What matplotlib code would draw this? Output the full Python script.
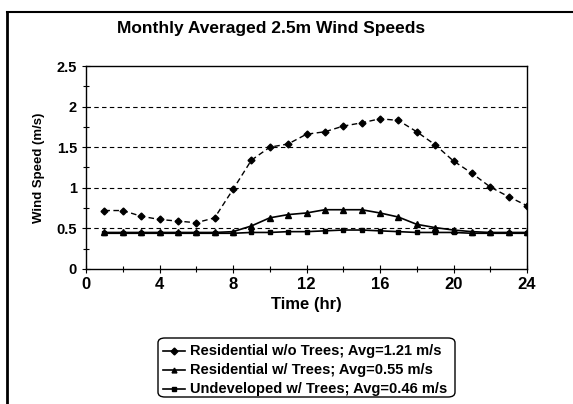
import numpy as np
import matplotlib.pyplot as plt
from matplotlib.ticker import MultipleLocator
from matplotlib.patches import FancyBboxPatch
from matplotlib.lines import Line2D

plt.rcParams['font.family'] = ['Liberation Sans', 'DejaVu Sans']

# hourly averaged wind speeds (m/s)
hours = list(range(1, 25))
res_no_trees = [0.72, 0.72, 0.65, 0.61, 0.59, 0.57, 0.63, 0.98, 1.34, 1.50, 1.54, 1.66,
                1.69, 1.76, 1.80, 1.85, 1.83, 1.69, 1.53, 1.33, 1.18, 1.01, 0.89, 0.78]
res_trees = [0.45, 0.45, 0.45, 0.45, 0.45, 0.45, 0.45, 0.46, 0.53, 0.63, 0.67, 0.69,
             0.73, 0.73, 0.73, 0.69, 0.64, 0.55, 0.51, 0.48, 0.46, 0.45, 0.45, 0.45]
undeveloped = [0.44, 0.44, 0.44, 0.44, 0.44, 0.44, 0.44, 0.44, 0.45, 0.45, 0.46, 0.46,
               0.47, 0.48, 0.48, 0.47, 0.46, 0.45, 0.45, 0.45, 0.44, 0.44, 0.44, 0.44]
labels = ['Residential w/o Trees; Avg=1.21 m/s',
          'Residential w/ Trees; Avg=0.55 m/s',
          'Undeveloped w/ Trees; Avg=0.46 m/s']
ytick_labels = ['0', '0.5', '1', '1.5', '2', '2.5']

fig = plt.figure(figsize=(5.73, 4.04), dpi=100)
W, H = 573, 404
ax = fig.add_axes([86 / W, 1 - 269 / H, (527 - 86) / W, (269 - 66) / H])

# grid lines
for yv in [0.5, 1, 1.5, 2]:
    ax.axhline(yv, color='black', linestyle=(0, (4, 3)), linewidth=0.8, zorder=1)

ax.plot(hours, res_no_trees, color='black', linestyle=(0, (4, 2.5)), linewidth=1.0,
        marker='D', markersize=3.5, zorder=3)
ax.plot(hours, res_trees, color='black', linestyle='-', linewidth=1.2,
        marker='^', markersize=4, zorder=3)
ax.plot(hours, undeveloped, color='black', linestyle='-', linewidth=1.2,
        marker='s', markersize=3.5, zorder=3)

ax.set_xlim(0, 24)
ax.set_ylim(0, 2.5)
ax.xaxis.set_major_locator(MultipleLocator(4))
ax.xaxis.set_minor_locator(MultipleLocator(2))
ax.yaxis.set_minor_locator(MultipleLocator(0.25))
ax.set_yticks([0, 0.5, 1, 1.5, 2, 2.5])
ax.set_yticklabels(ytick_labels)
ax.tick_params(which='both', direction='inout', width=0.8)
ax.tick_params(axis='x', labelsize=12, pad=3)
ax.tick_params(axis='y', labelsize=10.5)
ax.tick_params(which='major', length=6)
ax.tick_params(which='minor', length=4)
for lab in ax.get_xticklabels() + ax.get_yticklabels():
    lab.set_fontweight('bold')
for s in ax.spines.values():
    s.set_linewidth(1.0)

ax.set_xlabel('Time (hr)', fontsize=12, fontweight='bold', labelpad=3)
ax.set_ylabel('Wind Speed (m/s)', fontsize=9.5, fontweight='bold', labelpad=8)

fig.text(271 / W, 1 - 28 / H, 'Monthly Averaged 2.5m Wind Speeds', ha='center', va='center',
         fontsize=12.5, fontweight='bold')

# legend box
box = FancyBboxPatch((158 / W, 1 - 397 / H), (455 - 158) / W, (397 - 338) / H,
                     boxstyle='round,pad=0,rounding_size=0.012', transform=fig.transFigure,
                     facecolor='white', edgecolor='black', linewidth=1.0)
fig.patches.append(box)
markers = ['D', '^', 's']
for i, (lab, mk) in enumerate(zip(labels, markers)):
    yy = 1 - (351 + i * 19) / H
    fig.add_artist(Line2D([163 / W, 185 / W], [yy, yy], transform=fig.transFigure,
                          color='black', linewidth=1.2))
    fig.add_artist(Line2D([174 / W], [yy], transform=fig.transFigure, color='black',
                          marker=mk, markersize=3.5))
    fig.text(190 / W, yy, lab, ha='left', va='center', fontsize=10.5, fontweight='bold')

# outer frame (left and top edges)
fig.add_artist(Line2D([7 / W, 7 / W], [0, 1 - 12 / H], transform=fig.transFigure,
                      color='black', linewidth=2))
fig.add_artist(Line2D([7 / W, 1], [1 - 12 / H, 1 - 12 / H], transform=fig.transFigure,
                      color='black', linewidth=1.5))

fig.savefig('out.png', dpi=100)
